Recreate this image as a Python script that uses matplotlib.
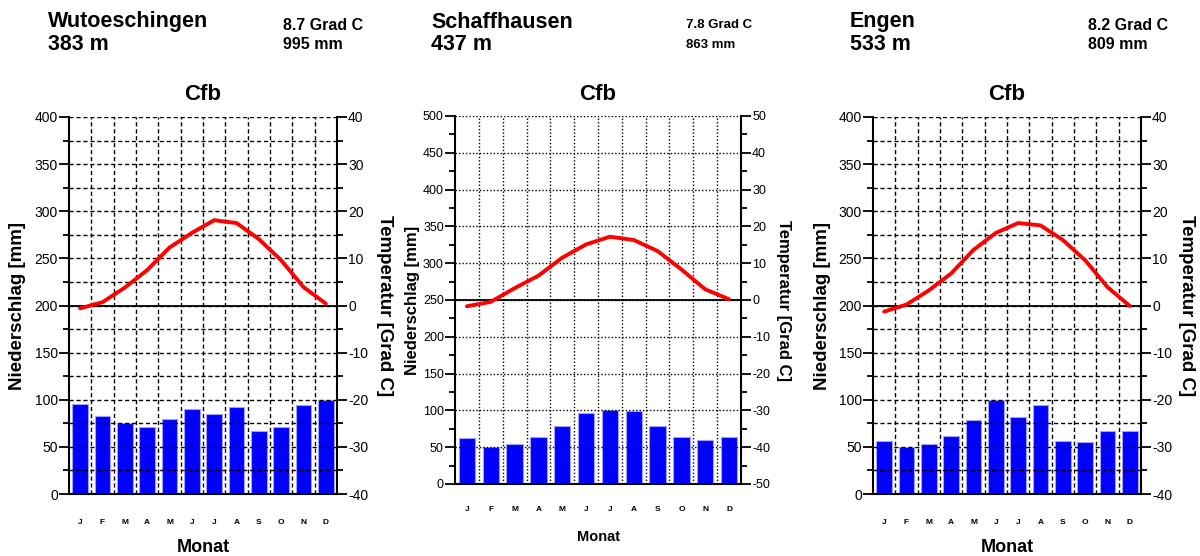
import matplotlib
matplotlib.use("Agg")
import matplotlib.pyplot as plt
from matplotlib.ticker import MultipleLocator

plt.rcParams["font.family"] = ["Liberation Sans", "DejaVu Sans"]
plt.rcParams["axes.unicode_minus"] = False

months = ["J", "F", "M", "A", "M", "J", "J", "A", "S", "O", "N", "D"]

stations = ["Wutoeschingen", "Schaffhausen", "Engen"]
elevations = ["383 m", "437 m", "533 m"]
mean_temps = ["8.7 Grad C", "7.8 Grad C", "8.2 Grad C"]
annual_prec = ["995 mm", "863 mm", "809 mm"]
climate_class = ["Cfb", "Cfb", "Cfb"]

prec_wutoeschingen = [95, 83, 75, 71, 80, 90, 85, 92, 67, 71, 94, 100]
temp_wutoeschingen = [-0.6, 0.7, 3.8, 7.5, 12.3, 15.4, 18.1, 17.5, 14.1, 9.6, 3.9, 0.4]

prec_schaffhausen = [62, 50, 54, 64, 79, 97, 100, 99, 79, 64, 60, 64]
temp_schaffhausen = [-1.7, -0.5, 3.2, 6.6, 11.5, 15.1, 17.2, 16.3, 13.3, 8.3, 2.9, 0.2]

prec_engen = [56, 50, 53, 62, 78, 100, 82, 94, 56, 55, 67, 67]
temp_engen = [-1.3, 0.2, 3.2, 6.8, 11.8, 15.4, 17.5, 17.0, 13.9, 9.6, 3.9, -0.1]

precs = [prec_wutoeschingen, prec_schaffhausen, prec_engen]
temps = [temp_wutoeschingen, temp_schaffhausen, temp_engen]

W, H = 1200, 556
fig = plt.figure(figsize=(W / 100, H / 100), dpi=100)


def fx(px):
    return px / W


def fy(py):
    return 1 - py / H


# per-panel layout (pixels): left, top, right, bottom
boxes = [(69, 117, 337, 494), (455, 116, 741, 484), (873, 117, 1141, 494)]
pmax = [400, 500, 400]
tlim = [(-40, 40), (-50, 50), (-40, 40)]
header_x = [(48, 283), (431, 686), (850, 1088)]
ylab_x = [(18, 384), (412, 783), (822, 1187)]
monat_y = [547, 537, 547]
small = [False, True, False]

for i in range(3):
    l, t, r, b = boxes[i]
    ax = fig.add_axes([fx(l), fy(b), fx(r - l), (b - t) / H])
    x = list(range(12))
    sm = small[i]

    ax.bar(x, precs[i], width=0.68 if sm else 0.7, color="#0000ff",
           edgecolor="#a0a0ff", linewidth=0.8, zorder=1)
    ax.set_xlim(-0.5, 11.5)
    ax.set_ylim(0, pmax[i])

    ax.yaxis.set_major_locator(MultipleLocator(50))
    ax.yaxis.set_minor_locator(MultipleLocator(25))
    if sm:
        ls = (0, (1, 1.5))
        ax.grid(axis="y", which="major", color="black", linestyle=ls, linewidth=1, zorder=2)
    else:
        ls = (0, (3, 2))
        ax.grid(axis="y", which="both", color="black", linestyle=ls, linewidth=1, zorder=2)
    ax.set_xticks([k + 0.5 for k in range(11)], minor=True)
    ax.grid(axis="x", which="minor", color="black", linestyle=ls, linewidth=1, zorder=2)
    ax.set_axisbelow(False)

    ax.set_xticks(x, months)
    ax.tick_params(axis="x", which="both", length=0, pad=16 if sm else 18,
                   labelsize=6)
    for lab in ax.get_xticklabels():
        lab.set_fontweight("bold")
    ax.tick_params(axis="y", which="major", length=7, width=1.3, direction="out",
                   labelsize=9 if sm else 10, pad=1)
    ax.tick_params(axis="y", which="minor", length=4, width=1.3, direction="out")

    for s in ["top", "right"]:
        ax.spines[s].set_visible(False)
    for s in ["left", "bottom"]:
        ax.spines[s].set_linewidth(1.5)

    ax2 = ax.twinx()
    ax2.set_ylim(*tlim[i])
    ax2.yaxis.set_major_locator(MultipleLocator(10))
    ax2.yaxis.set_minor_locator(MultipleLocator(5))
    ax2.tick_params(axis="y", which="major", length=7, width=1.3, direction="out",
                    labelsize=9 if sm else 10, pad=1)
    ax2.tick_params(axis="y", which="minor", length=4, width=1.3, direction="out")
    for s in ["top", "left", "bottom"]:
        ax2.spines[s].set_visible(False)
    ax2.spines["right"].set_linewidth(1.5)
    ax2.axhline(0, color="black", linewidth=1.3, zorder=3)
    ax2.plot(x, temps[i], color="#ff0000", linewidth=2.8, zorder=4,
             solid_capstyle="round")

    cx = (l + r) / 2
    cy = (t + b) / 2
    hx1, hx2 = header_x[i]
    fig.text(fx(hx1), fy(22), stations[i], fontsize=15.5, fontweight="bold",
             ha="left", va="center")
    fig.text(fx(hx1), fy(45), elevations[i], fontsize=15.5, fontweight="bold",
             ha="left", va="center")
    fig.text(fx(hx2), fy(25), mean_temps[i], fontsize=9.5 if sm else 11.5,
             fontweight="bold", ha="left", va="center")
    fig.text(fx(hx2), fy(45), annual_prec[i], fontsize=9.5 if sm else 11.5,
             fontweight="bold", ha="left", va="center")
    fig.text(fx(cx), fy(95), climate_class[i], fontsize=16, fontweight="bold",
             ha="center", va="center")
    fig.text(fx(cx), fy(monat_y[i]), "Monat", fontsize=10.5 if sm else 13,
             fontweight="bold", ha="center", va="center")
    lx, rx = ylab_x[i]
    fig.text(fx(lx), fy(cy), "Niederschlag [mm]", fontsize=12 if sm else 13.5,
             fontweight="bold", rotation=90, ha="center", va="center")
    fig.text(fx(rx), fy(cy), "Temperatur [Grad C]", fontsize=12 if sm else 13.5,
             fontweight="bold", rotation=270, ha="center", va="center")

fig.savefig("out.png", dpi=100)
